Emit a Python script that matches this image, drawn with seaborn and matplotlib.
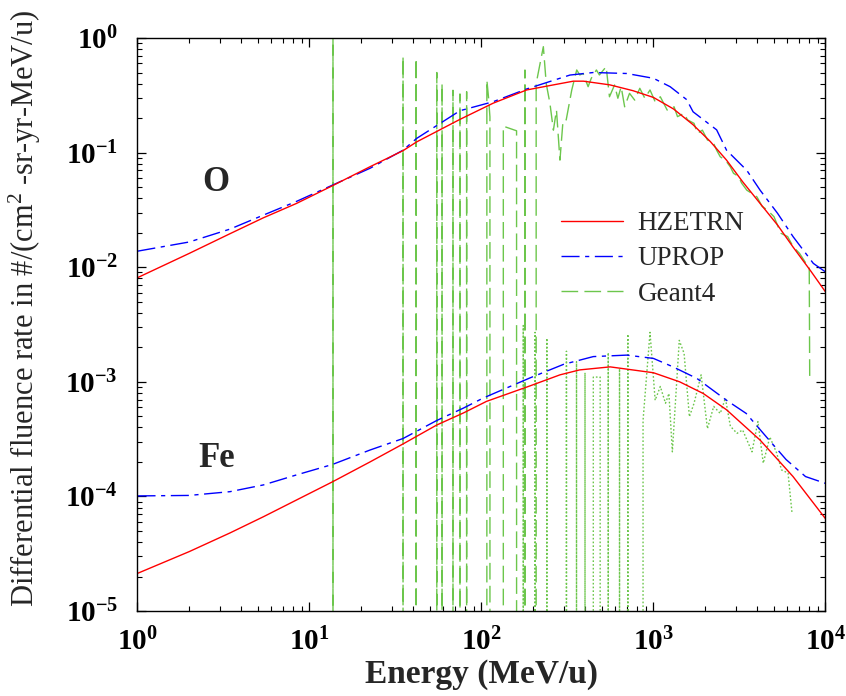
import numpy as np
import pandas as pd
import matplotlib
matplotlib.use("Agg")
import matplotlib.pyplot as plt
import seaborn as sns
from matplotlib.ticker import FixedLocator, FuncFormatter, LogLocator, NullFormatter
from matplotlib.lines import Line2D

# ---------------- data ----------------
o_hz_e = [1, 2, 3.45, 5.4, 8.4, 13.6, 22.5, 35, 42, 75, 117, 183, 260, 342, 392, 558,
          760, 1000, 1310, 1700, 2140, 2660, 3300, 4170, 5270, 6480, 8240, 10000]
o_hz_v = [0.0081, 0.0132, 0.0196, 0.027, 0.036, 0.0514, 0.0753, 0.104, 0.124, 0.195,
          0.27, 0.352, 0.389, 0.42, 0.42, 0.39, 0.347, 0.303, 0.24, 0.175, 0.125, 0.086,
          0.0557, 0.036, 0.0233, 0.015, 0.0092, 0.0061]

o_up_e = [1, 2, 3.45, 5.4, 8.4, 13.6, 22.5, 35, 42, 75, 117, 183, 327, 448, 700, 1000,
          1250, 1560, 1700, 2330, 2660, 3490, 4170, 5270, 6480, 8500, 10000]
o_up_v = [0.0138, 0.0166, 0.0215, 0.0285, 0.0375, 0.052, 0.073, 0.105, 0.133, 0.232,
          0.278, 0.359, 0.475, 0.50, 0.49, 0.445, 0.376, 0.29, 0.227, 0.158, 0.105, 0.07,
          0.047, 0.0295, 0.0185, 0.0108, 0.0091]

o_g4_e = [1, 13.4, 13.7, 14.0, 34.5, 35.0, 35.5, 41.2, 41.7, 42.2, 54.5, 55.0, 55.5,
          58.5, 59.0, 59.5, 67.8, 68.3, 68.8, 74.5, 75.0, 75.5, 81.5, 82.0, 82.5,
          106, 107.5, 110, 112, 122, 133, 134, 160, 170, 179, 191, 207, 208, 229, 238,
          250, 262, 273, 286, 298, 311, 335, 358, 373, 390, 417, 435, 466, 485, 531,
          555, 594, 621, 649, 680, 726, 778, 833, 891, 955, 1023, 1096, 1202, 1318,
          1380, 1507, 1578, 1722, 1800, 1925, 2060, 2240, 2330, 2445, 2620, 2800, 2920,
          3120, 3260, 3490, 3740, 4000, 4280, 4580, 5020, 5500, 6030, 6490, 7070, 7740,
          8050, 8100]
o_g4_v = [0, 0, 5.0, 0, 0, 0.69, 0, 0, 0.665, 0, 0, 0.50, 0,
          0, 0.40, 0, 0, 0.35, 0, 0, 0.325, 0, 0, 0.34, 0,
          0, 0.43, 0.30, 0.205, 0, 0, 0.17, 0.155, 0, 0.526, 0, 0, 0.40, 0.84, 0.40,
          0.27, 0.157, 0.235, 0.086, 0.19, 0.193, 0.352, 0.526, 0.476, 0.49, 0.376,
          0.445, 0.526, 0.476, 0.562, 0.307, 0.389, 0.298, 0.376, 0.251, 0.329, 0.287,
          0.364, 0.298, 0.352, 0.278, 0.307, 0.235, 0.251, 0.206, 0.22, 0.193, 0.18,
          0.147, 0.157, 0.129, 0.12, 0.105, 0.092, 0.086, 0.075, 0.066, 0.062, 0.054,
          0.047, 0.044, 0.041, 0.034, 0.0316, 0.0276, 0.0198, 0.0185, 0.0151, 0.0132,
          0.0107, 0.0101, 0.0011]

fe_hz_e = [1, 2, 3.45, 5.4, 8.4, 13.6, 22.5, 35, 55, 78.6, 107, 191, 286, 372, 560,
           1000, 1420, 1950, 2660, 4170, 6480, 10000]
fe_hz_v = [2.13e-5, 3.3e-5, 4.8e-5, 6.65e-5, 9.3e-5, 1.34e-4, 2.0e-4, 2.87e-4, 4.2e-4,
           5.35e-4, 6.75e-4, 9.2e-4, 1.15e-3, 1.27e-3, 1.35e-3, 1.2e-3, 1.0e-3, 7.9e-4,
           5.7e-4, 3.1e-4, 1.49e-4, 6.4e-5]

fe_up_e = [1, 2, 3.45, 5.4, 8.4, 13.6, 22.5, 35, 55, 78.6, 102, 191, 300, 447, 700,
           1000, 1300, 1790, 2660, 3460, 4540, 5900, 7660, 10000]
fe_up_v = [1.01e-4, 1.02e-4, 1.1e-4, 1.26e-4, 1.54e-4, 1.9e-4, 2.54e-4, 3.2e-4, 4.6e-4,
           5.9e-4, 7.2e-4, 1.08e-3, 1.42e-3, 1.66e-3, 1.71e-3, 1.6e-3, 1.35e-3, 1.07e-3,
           6.9e-4, 5.3e-4, 3.3e-4, 2.1e-4, 1.49e-4, 1.3e-4]

fe_g4_e = [1, 172, 175, 178, 200, 205, 210, 236, 240, 245, 308, 312, 318, 352, 357, 362,
           395, 400, 405, 443, 447, 490, 495, 540, 546, 552, 630, 635, 640, 705, 710,
           780, 860, 870, 955, 1023, 1096, 1175, 1230, 1288, 1413, 1507, 1618, 1722,
           1893, 2060, 2240, 2445, 2620, 2800, 3060, 3300, 3740, 4050, 4350, 4750, 5200,
           5560, 6060, 6390]
fe_g4_v = [0, 0, 3.1e-3, 0, 0, 2.7e-3, 0, 0, 2.4e-3, 0, 0, 1.85e-3, 0, 0, 1.5e-3, 0,
           0, 1.2e-3, 0, 0, 1.1e-3, 1.1e-3, 0, 0, 1.8e-3, 0, 0, 1.3e-3, 0, 0, 2.6e-3,
           0, 0, 4.6e-4, 2.7e-3, 6.9e-4, 9.1e-4, 6.5e-4, 7.9e-4, 2.45e-4, 2.3e-3,
           1.77e-3, 4.96e-4, 6.5e-4, 1.15e-3, 3.9e-4, 6.1e-4, 5.3e-4, 7.2e-4, 4.1e-4,
           3.55e-4, 3.8e-4, 2.45e-4, 4.5e-4, 1.95e-4, 3.3e-4, 2.4e-4, 1.7e-4, 1.6e-4,
           7.2e-5]

x_ticks = [1, 10, 100, 1000, 10000]
y_ticks = [1e-5, 1e-4, 1e-3, 1e-2, 1e-1, 1]

# ---------------- style ----------------
sns.set_theme(style="ticks")
plt.rcParams["font.family"] = ["Liberation Serif", "DejaVu Serif"]
plt.rcParams["mathtext.fontset"] = "custom"
plt.rcParams["mathtext.rm"] = "Liberation Serif"
plt.rcParams["mathtext.bf"] = "Liberation Serif:bold"
plt.rcParams["mathtext.it"] = "Liberation Serif:italic"

RED = "#ff0000"
BLUE = "#0000ff"
GREEN = "#6cc64c"

fig = plt.figure(figsize=(8.46, 6.96), dpi=100)
ax = fig.add_axes([0.1625, 0.1221, 0.8132, 0.8233])

dash_up = (0, (13, 4, 3, 4))
dash_g4 = (0, (12, 4.5))
dot_g4 = (0, (1.2, 1.5))

sns.lineplot(x=o_g4_e, y=o_g4_v, ax=ax, estimator=None, sort=False, color=GREEN,
             linewidth=1.0, linestyle=dash_g4)
sns.lineplot(x=fe_g4_e, y=fe_g4_v, ax=ax, estimator=None, sort=False, color=GREEN,
             linewidth=1.0, linestyle=dot_g4)
sns.lineplot(x=o_up_e, y=o_up_v, ax=ax, estimator=None, sort=False, color=BLUE,
             linewidth=1.0, linestyle=dash_up)
sns.lineplot(x=fe_up_e, y=fe_up_v, ax=ax, estimator=None, sort=False, color=BLUE,
             linewidth=1.0, linestyle=dash_up)
sns.lineplot(x=o_hz_e, y=o_hz_v, ax=ax, estimator=None, sort=False, color=RED,
             linewidth=1.0)
sns.lineplot(x=fe_hz_e, y=fe_hz_v, ax=ax, estimator=None, sort=False, color=RED,
             linewidth=1.0)

ax.set_xscale("log")
ax.set_yscale("log")
ax.set_xlim(1, 1e4)
ax.set_ylim(1e-5, 1)

fmt = FuncFormatter(lambda v, p: r"$\mathbf{10^{%d}}$" % int(round(np.log10(v))))
ax.xaxis.set_major_locator(FixedLocator(x_ticks))
ax.yaxis.set_major_locator(FixedLocator(y_ticks))
ax.xaxis.set_minor_locator(LogLocator(base=10, subs=range(2, 10), numticks=30))
ax.yaxis.set_minor_locator(LogLocator(base=10, subs=range(2, 10), numticks=30))
ax.xaxis.set_major_formatter(fmt)
ax.yaxis.set_major_formatter(fmt)
ax.xaxis.set_minor_formatter(NullFormatter())
ax.yaxis.set_minor_formatter(NullFormatter())

ax.tick_params(which="both", direction="in", top=True, right=True, bottom=True,
               left=True, colors="black")
ax.tick_params(which="major", length=6.5, width=0.9)
ax.tick_params(which="minor", length=3.6, width=0.8)
ax.tick_params(axis="x", which="major", pad=12, labelsize=21)
ax.tick_params(axis="y", which="major", pad=14, labelsize=21)
for s in ax.spines.values():
    s.set_color("black")
    s.set_linewidth(1.0)
    s.set_visible(True)

ax.set_xlabel("Energy (MeV/u)", fontsize=24, fontweight="bold")
ax.set_ylabel(r"Differential fluence rate in #/(cm$^{2}$ -sr-yr-MeV/u)", fontsize=22)
ax.xaxis.set_label_coords(0.5, -0.083)
ax.yaxis.set_label_coords(-0.138, 0.528)

ax.text(2.86, 0.055, "O", ha="center", va="center", fontsize=25, fontweight="bold")
ax.text(2.89, 2.15e-4, "Fe", ha="center", va="center", fontsize=25, fontweight="bold")

handles = [Line2D([], [], color=RED, lw=1.0),
           Line2D([], [], color=BLUE, lw=1.0, linestyle=dash_up),
           Line2D([], [], color=GREEN, lw=1.0, linestyle=dash_g4)]
leg = ax.legend(handles, ["HZETRN", "UPROP", "Geant4"], loc="upper left",
                bbox_to_anchor=(0.615, 0.698), frameon=False, fontsize=19.5,
                handlelength=2.3, handletextpad=0.55, labelspacing=0.38,
                borderpad=0, borderaxespad=0)

fig.savefig("out.png", dpi=100)
